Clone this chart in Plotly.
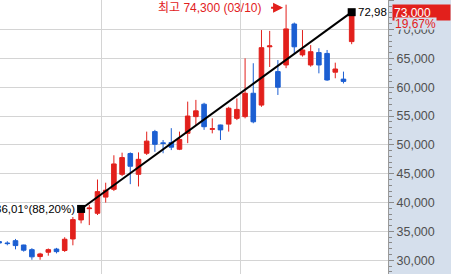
import plotly.graph_objects as go

# ---- data ----
idx = list(range(44))
opens = [33250, 33000, 33400, 32650, 31850, 30650, 31400, 31950, 31700, 33700,
         37000, 38950, 38150, 40950, 42300, 44900, 48500, 44900, 48550, 52300,
         50350, 50400, 49250, 52000, 54900, 57050, 52700, 53450, 53600, 54600,
         54900, 58950, 56900, 67000, 62700, 63850, 70950, 65600, 63850, 66000,
         65850, 62600, 61400, 67900]
highs = [33300, 33300, 33700, 32700, 32100, 31300, 32050, 32150, 34000, 37500,
         39100, 39600, 44000, 43450, 48200, 48650, 48700, 48700, 52300, 52600,
         50850, 52900, 52300, 57500, 57800, 57300, 54600, 53500, 56600, 58050,
         65000, 64150, 69900, 69750, 64700, 74300, 71200, 69900, 67300, 66750,
         66450, 64250, 62700, 73300]
lows = [32900, 32600, 31900, 31500, 30100, 30100, 30800, 31200, 31450, 32600,
        36400, 36100, 37850, 40000, 42000, 44600, 43200, 42800, 48250, 48800,
        48550, 49100, 49100, 50300, 53450, 52600, 52000, 50850, 52300, 54300,
        54600, 53750, 56600, 63500, 58650, 63300, 65900, 65300, 63550, 62400,
        61100, 61550, 60650, 67450]
closes = [33000, 32900, 32550, 31750, 30600, 31100, 31850, 31500, 33650, 37050,
          38800, 39050, 41900, 42150, 46700, 47800, 46300, 47500, 50650, 50100,
          50250, 49600, 50950, 55000, 55900, 53150, 52800, 52600, 56350, 56150,
          58950, 54000, 66850, 67150, 60000, 70100, 67000, 66450, 66150, 63850,
          61250, 63150, 61000, 73000]

month_breaks = [12.5, 29.5]
trend_x = [10, 43]
trend_y = [38900, 73000]
trend_start_label = "36,01°(88,20%)"
trend_end_label = "72,98"
high_label = "최고 74,300 (03/10)"

RED = "#e2201c"
BLUE = "#1c5fd2"
PANEL = "#d5dfec"
FONT = "Liberation Sans, Arial, Noto Sans CJK KR, sans-serif"
FS = 11.5

fig = go.Figure()
fig.add_trace(go.Candlestick(
    x=idx, open=opens, high=highs, low=lows, close=closes,
    increasing=dict(line=dict(color=RED, width=1), fillcolor=RED),
    decreasing=dict(line=dict(color=BLUE, width=1), fillcolor=BLUE),
    whiskerwidth=0, hoverinfo="skip", showlegend=False,
))
fig.add_trace(go.Scatter(
    x=trend_x, y=trend_y, mode="lines+markers",
    line=dict(color="black", width=2),
    marker=dict(symbol="square", size=8, color="black"),
    hoverinfo="skip", showlegend=False,
))

imax = max(idx, key=lambda i: highs[i])
last = closes[-1]
prev = closes[-2]
pct = (last / prev - 1) * 100

# arrow pointing at the highest high
fig.add_annotation(x=imax, y=highs[imax], text=" ", showarrow=True,
                   ax=-18, ay=0, yshift=-3, arrowhead=2, arrowsize=1, arrowwidth=2,
                   arrowcolor=RED, standoff=3)
fig.add_annotation(x=imax, y=highs[imax], text=high_label, showarrow=False,
                   xanchor="right", xshift=-23, yshift=-3,
                   font=dict(family=FONT, size=FS + 0.5, color=RED))
fig.add_annotation(x=trend_x[0], y=trend_y[0], text=trend_start_label, showarrow=False,
                   xanchor="right", xshift=-4, font=dict(family=FONT, size=FS, color="black"))
fig.add_annotation(x=trend_x[1], y=trend_y[1], text=trend_end_label, showarrow=False,
                   xanchor="left", xshift=4, font=dict(family=FONT, size=FS, color="black"))
fig.add_annotation(xref="paper", x=451 / 388, y=last, text=f"{last:,}", showarrow=False,
                   xanchor="right", align="left", width=55, height=13, borderpad=1,
                   bgcolor=RED, font=dict(family=FONT, size=FS + 0.5, color="white"))
fig.add_annotation(xref="paper", x=394 / 388, y=last, yshift=-11,
                   text=f"{pct:.2f}%".replace(".", ","), showarrow=False,
                   xanchor="left", bgcolor=PANEL, borderpad=0, height=11,
                   font=dict(family=FONT, size=FS + 0.5, color=RED))

fig.update_layout(
    width=451, height=274,
    margin=dict(l=0, r=63, t=0, b=0, pad=0),
    paper_bgcolor=PANEL, plot_bgcolor="white",
    hovermode=False, showlegend=False,
    boxgap=0.2,
    xaxis=dict(range=[0.11, 47.43], tickvals=month_breaks, showticklabels=False,
               ticks="", showgrid=True, gridcolor="#d4d4d4", zeroline=False,
               rangeslider=dict(visible=False), showline=False),
    yaxis=dict(side="right", range=[27626, 75110], tick0=0, dtick=5000,
               tickformat=",d", ticks="outside", ticklen=5, tickcolor="#8a8a8a",
               minor=dict(dtick=1000, ticks="outside", ticklen=3, tickcolor="#8a8a8a", showgrid=False),
               showgrid=True, gridcolor="#d4d4d4", zeroline=False,
               showline=True, linecolor="#9a9a9a", linewidth=1,
               tickfont=dict(family=FONT, size=FS + 1, color="#505050")),
)

fig.write_html("out.html")
